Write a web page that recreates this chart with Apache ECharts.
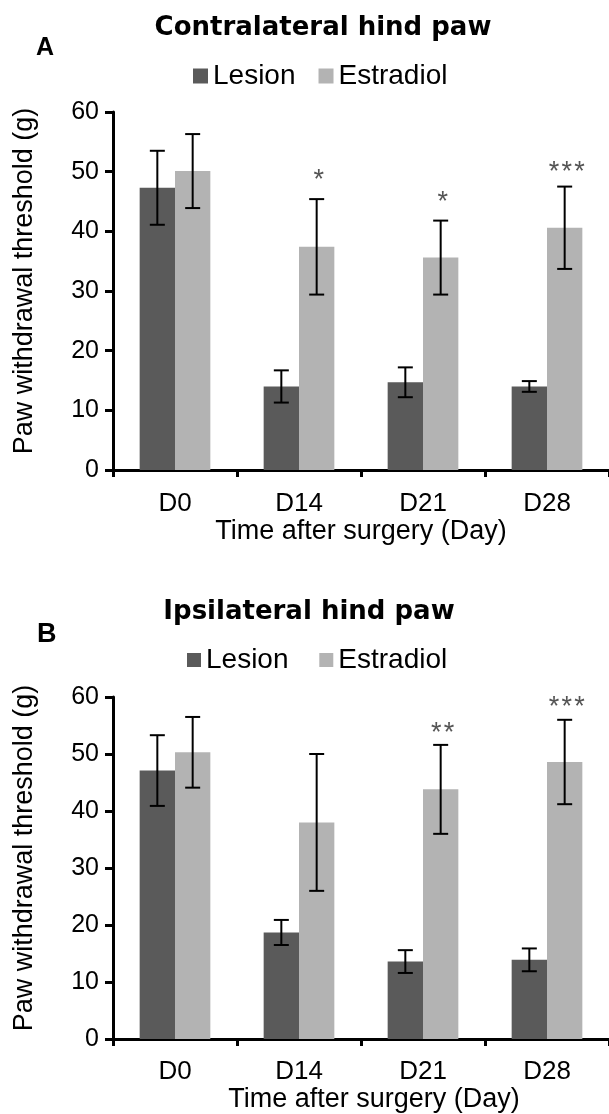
<!DOCTYPE html>
<html>
<head>
<meta charset="utf-8">
<script src="https://cdn.jsdelivr.net/npm/echarts@6/dist/echarts.min.js"></script>
<style>
html,body{margin:0;padding:0;background:#fff;}
#chart{width:609px;height:1114px;}
</style>
</head>
<body>
<div id="chart"></div>
<script>
// ---- data ----
const categories = ['D0', 'D14', 'D21', 'D28'];
const yTicks = [0, 10, 20, 30, 40, 50, 60];

// Panel A: Contralateral hind paw
const lesionA = [47.3, 14.0, 14.7, 14.0];
const lesionErrA = [6.2, 2.7, 2.5, 0.9];
const estradiolA = [50.1, 37.4, 35.6, 40.6];
const estradiolErrA = [6.2, 8.0, 6.2, 6.9];
const starsA = ['', '*', '*', '***'];
const starPosA = [null, 49.6, 45.8, 50.8];

// Panel B: Ipsilateral hind paw
const lesionB = [47.1, 18.7, 13.6, 13.9];
const lesionErrB = [6.2, 2.2, 2.0, 2.0];
const estradiolB = [50.3, 38.0, 43.8, 48.6];
const estradiolErrB = [6.2, 12.0, 7.8, 7.4];
const starsB = ['', '', '**', '***'];
const starPosB = [null, null, 54.6, 59.2];

// ---- style ----
const FONT = "'Liberation Sans', Arial, sans-serif";
const TITLE_FONT = "'DejaVu Sans', 'Liberation Sans', sans-serif";
const C_LESION = '#5a5a5a';
const C_ESTR = '#b3b3b3';
const CAT_GAP = 0.43;
const BAR_FRAC = (1 - CAT_GAP) / 2;

function errSeries(gridIdx, values, errs, side) {
  return {
    type: 'custom',
    xAxisIndex: gridIdx, yAxisIndex: gridIdx,
    silent: true, z: 10,
    data: values.map((v, i) => [i, v, errs[i]]),
    renderItem: function (params, api) {
      const i = api.value(0), v = api.value(1), e = api.value(2);
      const catW = api.size([1, 0])[0];
      const c = api.coord([i, v]);
      const x = c[0] + side * catW * BAR_FRAC / 2;
      const top = api.coord([i, v + e])[1];
      const bot = api.coord([i, v - e])[1];
      const hw = 7.5;
      const st = { stroke: '#000', lineWidth: 2 };
      return {
        type: 'group',
        children: [
          { type: 'line', shape: { x1: x, y1: top, x2: x, y2: bot }, style: st },
          { type: 'line', shape: { x1: x - hw, y1: top, x2: x + hw, y2: top }, style: st },
          { type: 'line', shape: { x1: x - hw, y1: bot, x2: x + hw, y2: bot }, style: st }
        ]
      };
    }
  };
}

function starSeries(gridIdx, stars, pos) {
  const data = [];
  stars.forEach((s, i) => { if (s) data.push([i, pos[i], s]); });
  return {
    type: 'custom',
    xAxisIndex: gridIdx, yAxisIndex: gridIdx,
    silent: true, z: 11,
    data: data,
    renderItem: function (params, api) {
      const i = api.value(0), v = api.value(1);
      const catW = api.size([1, 0])[0];
      const c = api.coord([i, v]);
      const x = c[0] + catW * BAR_FRAC / 2 + 2;
      const txt = data[params.dataIndex][2].split('').join('\u200A');
      return {
        type: 'text',
        style: {
          x: x, y: c[1] + 6, text: txt,
          fill: '#555', font: '27px ' + FONT,
          align: 'center', verticalAlign: 'middle'
        }
      };
    }
  };
}

function xAxisCfg(gridIdx, labelMargin, nameGap, namePad) {
  return {
    type: 'category', gridIndex: gridIdx, data: categories,
    axisLine: { lineStyle: { color: '#000', width: 3 } },
    axisTick: { show: true, alignWithLabel: false, length: 7, lineStyle: { color: '#000', width: 3 } },
    axisLabel: { color: '#000', fontSize: 26, fontFamily: FONT, margin: labelMargin },
    name: 'Time after surgery (Day)', nameLocation: 'middle', nameGap: nameGap,
    nameTextStyle: { color: '#000', fontSize: 27, fontFamily: FONT, padding: namePad }
  };
}
function yAxisCfg(gridIdx) {
  return {
    type: 'value', gridIndex: gridIdx, min: yTicks[0], max: yTicks[yTicks.length - 1], interval: 10,
    axisLine: { show: true, lineStyle: { color: '#000', width: 3 } },
    axisTick: { show: true, length: 8, lineStyle: { color: '#000', width: 3 } },
    axisLabel: { color: '#000', fontSize: 25, fontFamily: FONT, margin: 14 },
    splitLine: { show: false },
    name: 'Paw withdrawal threshold (g)', nameLocation: 'middle', nameGap: 75,
    nameTextStyle: { color: '#000', fontSize: 27, fontFamily: FONT, padding: [0, 0, 0, 20] }
  };
}
function barSeries(name, gridIdx, values, color) {
  return {
    name: name, type: 'bar', xAxisIndex: gridIdx, yAxisIndex: gridIdx,
    data: values, barGap: '0%', barCategoryGap: (CAT_GAP * 100) + '%',
    itemStyle: { color: color }, silent: true
  };
}

const chart = echarts.init(document.getElementById('chart'), null, { renderer: 'canvas' });
chart.setOption({
  animation: false,
  backgroundColor: '#fff',
  textStyle: { fontFamily: FONT },
  title: [
    { text: 'Contralateral hind paw', left: 323, top: 15, textAlign: 'center', padding: 0,
      textStyle: { fontSize: 26, fontWeight: 'bold', color: '#000', fontFamily: TITLE_FONT } },
    { text: 'A', left: 36, top: 36, padding: 0,
      textStyle: { fontSize: 25, fontWeight: 'bold', color: '#000', fontFamily: FONT } },
    { text: 'Ipsilateral hind paw', left: 309, top: 599, textAlign: 'center', padding: 0,
      textStyle: { fontSize: 26, fontWeight: 'bold', color: '#000', fontFamily: TITLE_FONT } },
    { text: 'B', left: 37, top: 621, padding: 0,
      textStyle: { fontSize: 27, fontWeight: 'bold', color: '#000', fontFamily: FONT } }
  ],
  legend: [
    { data: ['Lesion', 'Estradiol'], left: 193, top: 62, padding: 0, itemGap: 23,
      itemWidth: 15, itemHeight: 15, icon: 'rect', selectedMode: false,
      textStyle: { fontSize: 28, color: '#000', fontFamily: FONT } },
    { data: ['Lesion ', 'Estradiol '], left: 187, top: 646, padding: 0, itemGap: 23,
      itemWidth: 14, itemHeight: 14, icon: 'rect', selectedMode: false,
      textStyle: { fontSize: 28, color: '#000', fontFamily: FONT } }
  ],
  grid: [
    { left: 113, top: 112, width: 502, height: 358 },
    { left: 113, top: 697, width: 502, height: 345 }
  ],
  xAxis: [xAxisCfg(0, 21, 47, [0, 0, 0, 0]), xAxisCfg(1, 20, 34, [0, 0, 0, 26])],
  yAxis: [yAxisCfg(0), yAxisCfg(1)],
  series: [
    barSeries('Lesion', 0, lesionA, C_LESION),
    barSeries('Estradiol', 0, estradiolA, C_ESTR),
    errSeries(0, lesionA, lesionErrA, -1),
    errSeries(0, estradiolA, estradiolErrA, 1),
    starSeries(0, starsA, starPosA),
    barSeries('Lesion ', 1, lesionB, C_LESION),
    barSeries('Estradiol ', 1, estradiolB, C_ESTR),
    errSeries(1, lesionB, lesionErrB, -1),
    errSeries(1, estradiolB, estradiolErrB, 1),
    starSeries(1, starsB, starPosB)
  ]
});
</script>
</body>
</html>
